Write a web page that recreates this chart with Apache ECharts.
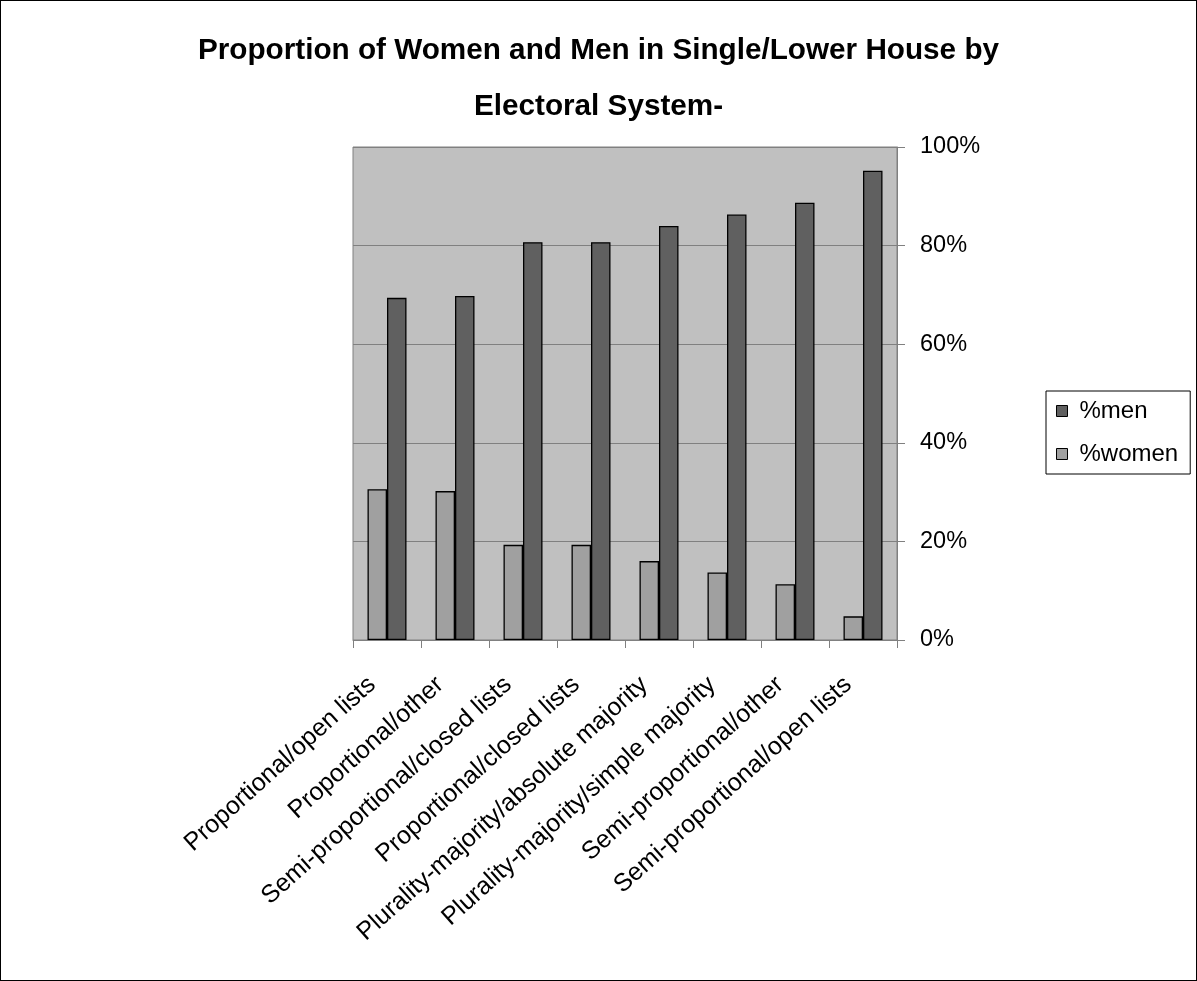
<!DOCTYPE html>
<html><head><meta charset="utf-8">
<script src="https://cdn.jsdelivr.net/npm/echarts@6/dist/echarts.min.js"></script>
<style>html,body{margin:0;padding:0;background:#fff}#c{width:1197px;height:981px;box-sizing:border-box;border:1px solid #000}</style>
</head><body><div id="c"></div>
<script>
const categories = ["Proportional/open lists","Proportional/other","Semi-proportional/closed lists","Proportional/closed lists","Plurality-majority/absolute majority","Plurality-majority/simple majority","Semi-proportional/other","Semi-proportional/open lists"];
const women = [30.6, 30.2, 19.3, 19.3, 16.0, 13.7, 11.3, 4.8];
const men = [69.4, 69.8, 80.7, 80.7, 84.0, 86.3, 88.7, 95.2];
const yTicks = [0, 20, 40, 60, 80, 100];
const F = "Liberation Sans, Arial, sans-serif";
const chart = echarts.init(document.getElementById('c'));
chart.setOption({
  animation: false,
  backgroundColor: '#fff',
  title: {
    text: 'Proportion of Women and Men in Single/Lower House by\nElectoral System-',
    left: 'center', top: 17,
    textStyle: {fontFamily: F, fontSize: 29.7, fontWeight: 'bold', color: '#000', lineHeight: 56}
  },
  legend: {
    orient: 'vertical', left: 1045, top: 390,
    data: ['%men', '%women'],
    itemWidth: 11, itemHeight: 11, itemGap: 19,
    borderColor: '#000', borderWidth: 1, padding: [8, 12, 8, 10],
    textStyle: {fontFamily: F, fontSize: 24, color: '#000', padding: [0, 0, 0, 7]},
    icon: 'rect',
    itemStyle: {borderColor: '#000', borderWidth: 1}
  },
  grid: {left: 352, right: 299, top: 146, bottom: 340, show: true, backgroundColor: '#c0c0c0', borderColor: '#808080', borderWidth: 1},
  xAxis: {
    type: 'category', data: categories,
    axisLine: {lineStyle: {color: '#808080', width: 1}},
    axisTick: {show: true, length: 8, lineStyle: {color: '#808080'}},
    axisLabel: {rotate: 42, interval: 0, fontFamily: F, fontSize: 25, color: '#000', margin: 28, padding: [0, 20, 0, 0]}
  },
  yAxis: {
    type: 'value', position: 'right', min: 0, max: 100, interval: 20,
    axisLine: {show: true, lineStyle: {color: '#808080'}},
    axisTick: {show: true, length: 8, lineStyle: {color: '#808080'}},
    splitLine: {lineStyle: {color: '#808080', width: 1}},
    axisLabel: {fontFamily: F, fontSize: 23.5, color: '#000', margin: 23,
      formatter: v => yTicks.includes(v) ? v + '%' : ''}
  },
  series: [
    {name: '%women', type: 'bar', data: women, barWidth: 19.5, barGap: '0%',
      itemStyle: {color: '#a0a0a0', borderColor: '#000', borderWidth: 1.3}},
    {name: '%men', type: 'bar', data: men, barWidth: 19.5, barGap: '0%',
      itemStyle: {color: '#606060', borderColor: '#000', borderWidth: 1.3}}
  ]
});
</script></body></html>
